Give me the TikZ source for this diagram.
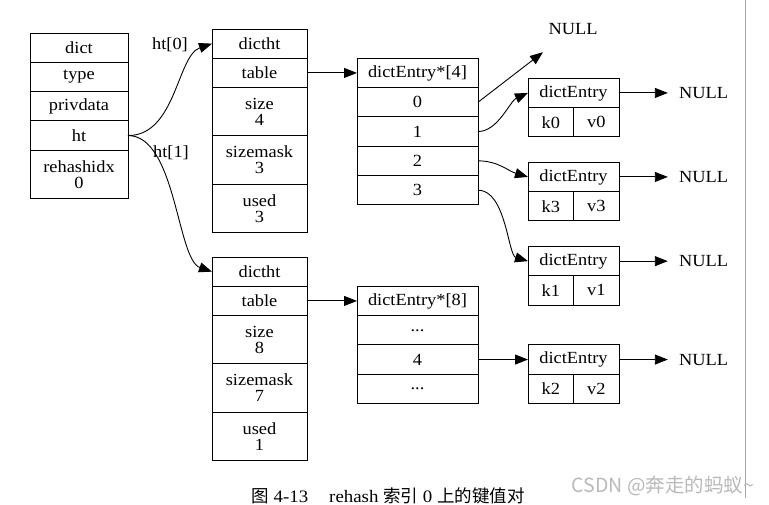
\documentclass[tikz,border=0pt]{standalone}
\usepackage{fontspec}
\setmainfont{Liberation Serif}[FakeStretch=1.08]
\newfontfamily\cjk{Noto Sans CJK SC}
\usetikzlibrary{arrows.meta}

\begin{document}
\begin{tikzpicture}[x=1pt,y=-1pt,
  cell/.style={draw,line width=0.9pt,inner sep=0pt,outer sep=0pt,minimum height=29.3pt,align=center,font=\fontsize{17}{16}\selectfont},
  tall/.style={cell,minimum height=48.3pt},
  arr/.style={-{Triangle[length=13pt,width=10pt]},line width=0.9pt},
  nullnode/.style={inner xsep=11pt,inner ysep=0pt,font=\fontsize{17}{16}\selectfont},
  lbl/.style={inner sep=0pt,font=\fontsize{17}{16}\selectfont}]
\useasboundingbox (0,0) rectangle (769,505);
% dict
\node[cell,minimum width=98pt] (dict) at (79,47.65) {dict};
\node[cell,minimum width=98pt] (type) at (79,76.95) {type};
\node[cell,minimum width=98pt] (privdata) at (79,106.25) {privdata};
\node[cell,minimum width=98pt] (ht) at (79,135.55) {ht};
\node[tall,minimum width=98pt] (rehashidx) at (79,174.35) {rehashidx\\0};
% ht[0]
\node[cell,minimum width=95pt] (tht) at (259.5,43.65) {dictht};
\node[cell,minimum width=95pt] (ttable) at (259.5,72.95) {table};
\node[tall,minimum width=95pt] (tsize) at (259.5,111.75) {size\\4};
\node[tall,minimum width=95pt] (tmask) at (259.5,160.05) {sizemask\\3};
\node[tall,minimum width=95pt] (tused) at (259.5,208.35) {used\\3};
% ht[1]
\node[cell,minimum width=95pt] (bht) at (259.5,271.65) {dictht};
\node[cell,minimum width=95pt] (btable) at (259.5,300.95) {table};
\node[tall,minimum width=95pt] (bsize) at (259.5,339.75) {size\\8};
\node[tall,minimum width=95pt] (bmask) at (259.5,388.05) {sizemask\\7};
\node[tall,minimum width=95pt] (bused) at (259.5,436.35) {used\\1};
% dictEntry*[4]
\node[cell,minimum width=121pt] (tarr) at (417.5,72.95) {dictEntry*[4]};
\node[cell,minimum width=121pt] (t0) at (417.5,102.25) {0};
\node[cell,minimum width=121pt] (t1) at (417.5,131.55) {1};
\node[cell,minimum width=121pt] (t2) at (417.5,160.85) {2};
\node[cell,minimum width=121pt] (t3) at (417.5,190.15) {3};
% dictEntry*[8]
\node[cell,minimum width=121pt] (barr) at (417.5,300.95) {dictEntry*[8]};
\node[cell,minimum width=121pt] (bdots) at (417.5,330.25) {...};
\node[cell,minimum width=121pt] (b4) at (417.5,359.55) {4};
\node[cell,minimum width=121pt] (bdotss) at (417.5,388.85) {...};
% entries
\node[cell,minimum width=91pt] (e0) at (573.5,92.95) {dictEntry};
\node[cell,minimum width=45.5pt] (k0) at (550.75,122.25) {k0};
\node[cell,minimum width=45.5pt] (v0) at (596.25,122.25) {v0};
\node[cell,minimum width=91pt] (e3) at (573.5,176.95) {dictEntry};
\node[cell,minimum width=45.5pt] (k3) at (550.75,206.25) {k3};
\node[cell,minimum width=45.5pt] (v3) at (596.25,206.25) {v3};
\node[cell,minimum width=91pt] (e1) at (573.5,261.15) {dictEntry};
\node[cell,minimum width=45.5pt] (k1) at (550.75,290.45) {k1};
\node[cell,minimum width=45.5pt] (v1) at (596.25,290.45) {v1};
\node[cell,minimum width=91pt] (e2) at (573.5,359.55) {dictEntry};
\node[cell,minimum width=45.5pt] (k2) at (550.75,388.85) {k2};
\node[cell,minimum width=45.5pt] (v2) at (596.25,388.85) {v2};
% NULL
\node[nullnode,minimum height=46pt] (nullt0) at (573,29) {NULL};
\node[nullnode] (null0) at (703.5,92.95) {NULL};
\node[nullnode] (null3) at (703.5,176.95) {NULL};
\node[nullnode] (null1) at (703.5,261.15) {NULL};
\node[nullnode] (null2) at (703.5,359.55) {NULL};
% edges
\draw[arr] (ht.east) .. controls +(48,0) and +(-35,12) .. (tht.west);
\draw[arr] (ht.east) .. controls +(48,0) and +(-35,-12) .. (bht.west);
\node[lbl] (lht0) at (170,45) {ht[0]};
\node[lbl] (lht1) at (171,153) {ht[1]};
\draw[arr] (ttable) -- (tarr);
\draw[arr] (btable) -- (barr);
\draw[arr] (t0.east) -- (nullt0);
\draw[arr] (t1.east) .. controls +(20,0) and +(-18,8) .. (e0.west);
\draw[arr] (t2.east) .. controls +(20,0) and +(-20,-6) .. (e3.west);
\draw[arr] (t3.east) .. controls +(28,0) and +(-20,-6) .. (e1.west);
\draw[arr] (b4) -- (e2);
\draw[arr] (e0) -- (null0);
\draw[arr] (e3) -- (null3);
\draw[arr] (e1) -- (null1);
\draw[arr] (e2) -- (null2);
% caption
\node[font=\fontsize{17.5}{17.5}\selectfont] (caption) at (388,496) {{\cjk 图} 4-13\hspace{1.2em}rehash {\cjk 索引} 0 {\cjk 上的键值对}};
\draw[gray!70,line width=0.8pt] (745.5,0) -- (745.5,498);
\node[text=gray!55,font=\cjk\fontsize{19.5}{19.5}\selectfont] (mark) at (663,486) {CSDN @奔走的蚂蚁\textasciitilde};
\end{tikzpicture}
\end{document}
